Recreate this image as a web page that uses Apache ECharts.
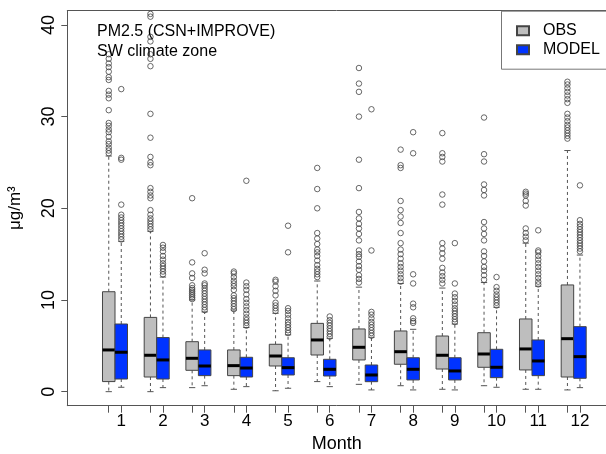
<!DOCTYPE html>
<html>
<head>
<meta charset="utf-8">
<script src="https://cdn.jsdelivr.net/npm/echarts@6/dist/echarts.min.js"></script>
<style>html,body{margin:0;padding:0;background:#fff}#c{width:606px;height:454px}</style>
</head>
<body>
<div id="c"></div>
<script>
const months = [1,2,3,4,5,6,7,8,9,10,11,12];
const yTicks = [0,10,20,30,40];
// [lower whisker, Q1, median, Q3, upper whisker]
const obsStats = [
  [0.0, 1.1, 4.55, 10.9, 25.7],
  [0.0, 1.6, 3.97, 8.1, 17.5],
  [0.44, 2.33, 3.64, 5.45, 10.0],
  [0.26, 1.75, 2.84, 4.55, 8.9],
  [0.1, 2.8, 3.89, 5.17, 8.55],
  [1.1, 4.0, 5.64, 7.45, 12.07],
  [0.8, 3.46, 4.84, 6.84, 11.4],
  [0.65, 2.99, 4.36, 6.62, 11.8],
  [0.26, 2.47, 3.97, 6.07, 11.3],
  [0.65, 2.66, 4.11, 6.43, 11.9],
  [0.26, 2.37, 4.66, 7.93, 16.2],
  [0.19, 1.6, 5.78, 11.64, 26.3]
];
const modelStats = [
  [0.48, 1.38, 4.3, 7.38, 16.4],
  [0.44, 1.38, 3.46, 5.9, 12.5],
  [0.65, 1.75, 2.8, 4.55, 8.7],
  [0.55, 1.6, 2.58, 3.75, 7.0],
  [0.37, 1.82, 2.62, 3.7, 6.2],
  [0.55, 1.71, 2.44, 3.53, 5.82],
  [0.19, 1.09, 1.82, 2.91, 5.93],
  [0.19, 1.28, 2.44, 3.7, 6.8],
  [0.19, 1.28, 2.26, 3.7, 7.38],
  [0.48, 1.53, 2.66, 4.62, 9.2],
  [0.26, 1.75, 3.35, 5.64, 11.5],
  [0.44, 1.46, 3.82, 7.09, 14.9]
];
const obsOutliers = [
  [26.0, 26.3, 26.6, 27.0, 27.3, 27.8, 28.3, 28.6, 29.0, 29.3, 30.7, 32.0, 32.4, 32.8, 34.0, 34.3, 34.9, 35.4, 35.8, 36.3, 36.8],
  [17.7, 18.0, 18.3, 18.6, 18.9, 19.3, 19.8, 21.1, 21.4, 21.8, 22.2, 24.7, 25.0, 25.6, 27.7, 30.3, 35.5, 36.3, 36.8, 38.2, 38.7, 40.9, 41.2],
  [10.1, 10.3, 10.5, 10.7, 10.9, 11.1, 11.3, 11.6, 12.4, 12.9, 14.1, 21.1],
  [9.0, 9.3, 9.6, 9.9, 10.2, 10.5, 11.1, 11.5, 11.8, 12.1, 12.5, 12.9, 13.1],
  [8.8, 9.1, 9.4, 9.7, 10.5, 11.0, 11.5, 12.0, 12.2],
  [12.5, 12.8, 13.1, 13.4, 13.8, 14.3, 14.8, 15.2, 15.5, 16.1, 16.7, 17.3, 20.0, 22.1, 24.4],
  [11.9, 12.3, 12.7, 13.3, 13.7, 14.2, 14.7, 15.0, 15.4, 16.5, 17.2, 17.8, 18.3, 18.9, 19.6, 22.2, 25.3, 30.0, 32.7, 33.6, 35.3],
  [12.0, 12.4, 12.8, 13.2, 13.6, 14.0, 14.5, 15.0, 15.5, 16.2, 17.3, 18.4, 19.1, 19.8, 20.8, 24.4, 24.7, 26.4],
  [11.8, 12.2, 12.6, 13.0, 13.5, 14.5, 15.1, 15.6, 16.2, 20.4, 21.5, 25.1, 25.6, 26.0, 28.2],
  [12.2, 12.7, 13.2, 13.6, 14.2, 14.8, 15.3, 16.5, 17.2, 17.8, 18.5, 21.4, 22.0, 22.6, 25.1, 25.9, 29.9],
  [16.5, 16.9, 17.3, 17.8, 20.3, 20.8, 21.4, 21.6, 21.8],
  [27.6, 27.9, 28.2, 28.5, 28.8, 29.1, 29.5, 29.9, 30.3, 31.5, 31.9, 32.3, 32.7, 33.1, 33.5, 33.8]
];
const modelOutliers = [
  [16.6, 16.9, 17.2, 17.5, 17.8, 18.1, 18.4, 18.7, 19.0, 19.3, 20.4, 25.3, 25.5, 33.0],
  [12.8, 13.1, 13.4, 13.7, 14.0, 14.4, 14.8, 15.3, 15.7, 16.0],
  [8.9, 9.2, 9.5, 9.8, 10.1, 10.4, 10.7, 11.0, 11.3, 11.6, 11.8, 12.9, 13.3, 15.1],
  [7.2, 7.5, 7.8, 8.1, 8.5, 8.9, 9.3, 9.7, 10.1, 10.6, 11.1, 11.5, 11.9, 23.0],
  [6.4, 6.7, 7.0, 7.3, 7.6, 8.0, 8.4, 8.8, 9.1, 15.2, 18.1],
  [6.0, 6.3, 6.6, 6.9, 7.2, 7.5, 7.8, 8.2],
  [6.1, 6.4, 6.7, 7.0, 7.3, 7.6, 8.0, 8.4, 8.7, 15.4, 30.8],
  [7.5, 7.7, 8.0, 9.2, 9.6, 11.8, 12.8, 26.0, 28.3],
  [7.6, 7.9, 8.2, 8.5, 8.8, 9.1, 9.5, 9.9, 10.3, 10.7, 11.8, 16.2],
  [9.4, 9.7, 10.0, 10.3, 10.6, 11.0, 11.4, 12.5],
  [11.7, 12.0, 12.4, 12.8, 13.2, 13.6, 14.0, 14.4, 14.8, 15.2, 15.4, 17.6],
  [15.3, 15.6, 15.9, 16.2, 16.5, 16.8, 17.1, 17.4, 17.7, 18.0, 18.3, 18.7, 22.5]
];

const OFF = 0.15, BOXW = 0.3;
const X_MIN = -0.144, X_MAX = 12.775;
const FONT = 'Liberation Sans, Arial, Helvetica, sans-serif';

function boxData(stats, off) {
  return stats.map((s, i) => [months[i] + off].concat(s));
}
function outlierData(list, off) {
  const out = [];
  list.forEach((vals, i) => vals.forEach(v => out.push([months[i] + off, v])));
  return out;
}
function renderBox(params, api) {
  const x = api.value(0);
  const lo = api.coord([x, api.value(1)]);
  const q1 = api.coord([x, api.value(2)]);
  const md = api.coord([x, api.value(3)]);
  const q3 = api.coord([x, api.value(4)]);
  const hi = api.coord([x, api.value(5)]);
  const w = api.size([BOXW, 0])[0];
  const cx = lo[0];
  const cap = w * 0.25;
  const style = api.style();
  const wk = {stroke: '#555', lineWidth: 1, lineDash: [3, 3]};
  const cp = {stroke: '#555', lineWidth: 1};
  return {
    type: 'group',
    children: [
      {type: 'line', shape: {x1: cx, y1: q3[1], x2: cx, y2: hi[1]}, style: wk},
      {type: 'line', shape: {x1: cx, y1: q1[1], x2: cx, y2: lo[1]}, style: wk},
      {type: 'line', shape: {x1: cx - cap, y1: hi[1], x2: cx + cap, y2: hi[1]}, style: cp},
      {type: 'line', shape: {x1: cx - cap, y1: lo[1], x2: cx + cap, y2: lo[1]}, style: cp},
      {type: 'rect', shape: {x: cx - w / 2, y: q3[1], width: w, height: q1[1] - q3[1]},
        style: {fill: style.fill, stroke: '#444', lineWidth: 1}},
      {type: 'line', shape: {x1: cx - w / 2, y1: md[1], x2: cx + w / 2, y2: md[1]},
        style: {stroke: '#000', lineWidth: 3}}
    ]
  };
}

const xTickVals = [];
months.forEach(m => { xTickVals.push(m - OFF); xTickVals.push(m + OFF); });
const xLabelVals = months.map(m => m + OFF);

const chart = echarts.init(document.getElementById('c'), null, {renderer: 'canvas'});
chart.setOption({
  animation: false,
  backgroundColor: '#fff',
  textStyle: {fontFamily: FONT},
  title: {
    text: 'PM2.5 (CSN+IMPROVE)\nSW climate zone',
    left: 97, top: 22, padding: 0,
    textStyle: {fontSize: 16, fontWeight: 'normal', color: '#000', lineHeight: 19.5, fontFamily: FONT}
  },
  graphic: [{
    type: 'rect', left: 501, top: 10.7, z: 1,
    shape: {width: 160, height: 58},
    style: {fill: '#fff', stroke: '#777', lineWidth: 1}
  }],
  legend: {
    data: ['OBS', 'MODEL'],
    orient: 'vertical',
    left: 501, top: 10.7,
    padding: [12, 0, 11.5, 15],
    itemWidth: 12, itemHeight: 9, itemGap: 3,
    icon: 'rect',
    selectedMode: false,
    z: 5,
    textStyle: {fontSize: 16, lineHeight: 16, color: '#000', padding: [0, 0, 0, 9], fontFamily: FONT}
  },
  grid: {
    left: 67.3, top: 10.7, right: 0, height: 395, show: false,
    outerBoundsMode: 'none', containLabel: false
  },
  xAxis: [{
    type: 'value', min: X_MIN, max: X_MAX, position: 'bottom',
    name: 'Month', nameLocation: 'middle', nameGap: 26,
    nameTextStyle: {fontSize: 18, color: '#000', fontFamily: FONT},
    axisLine: {show: true, onZero: false, lineStyle: {color: '#555'}},
    splitLine: {show: false},
    axisTick: {show: true, length: 7, customValues: xTickVals, lineStyle: {color: '#555'}},
    axisLabel: {customValues: xLabelVals, margin: 7, fontSize: 17, color: '#000', fontFamily: FONT,
      formatter: v => String(Math.round(v - OFF))}
  }, {
    type: 'value', min: X_MIN, max: X_MAX, position: 'top',
    axisLine: {show: true, onZero: false, lineStyle: {color: '#555'}},
    splitLine: {show: false}, axisTick: {show: false}, axisLabel: {show: false}
  }],
  yAxis: {
    type: 'value', min: -1.53, max: 41.55,
    name: 'μg/m³', nameLocation: 'middle', nameGap: 43,
    nameTextStyle: {fontSize: 17, color: '#000', fontFamily: FONT},
    axisLine: {show: true, onZero: false, lineStyle: {color: '#555'}},
    splitLine: {show: false},
    axisTick: {show: true, length: 6, customValues: yTicks, lineStyle: {color: '#555'}},
    axisLabel: {customValues: yTicks, rotate: 90, margin: 9, fontSize: 18, color: '#000', fontFamily: FONT}
  },
  series: [
    {
      name: 'OBS', type: 'custom', renderItem: renderBox, silent: true,
      itemStyle: {color: '#BEBEBE', borderColor: '#444', borderWidth: 1},
      encode: {x: 0, y: [1, 2, 3, 4, 5]},
      data: boxData(obsStats, -OFF), z: 2
    },
    {
      name: 'MODEL', type: 'custom', renderItem: renderBox, silent: true,
      itemStyle: {color: '#0033FF', borderColor: '#444', borderWidth: 1},
      encode: {x: 0, y: [1, 2, 3, 4, 5]},
      data: boxData(modelStats, OFF), z: 2
    },
    {
      type: 'scatter', silent: true, symbol: 'circle', symbolSize: 5.5,
      itemStyle: {color: 'transparent', borderColor: '#444', borderWidth: 1},
      data: outlierData(obsOutliers, -OFF), z: 3
    },
    {
      type: 'scatter', silent: true, symbol: 'circle', symbolSize: 5.5,
      itemStyle: {color: 'transparent', borderColor: '#444', borderWidth: 1},
      data: outlierData(modelOutliers, OFF), z: 3
    }
  ]
});
</script>
</body>
</html>
